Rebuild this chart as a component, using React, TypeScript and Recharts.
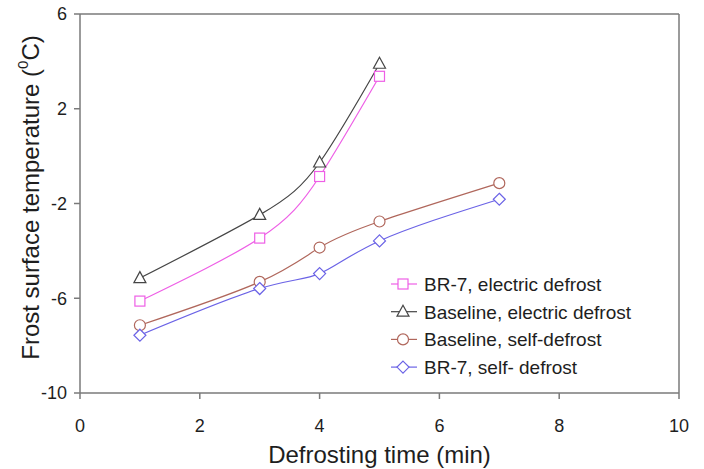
import React from "react";
import { LineChart, Line, XAxis, YAxis, ReferenceLine } from "recharts";

// Defrosting time (min)
const timeElectric = [1, 3, 4, 5];
const timeSelf = [1, 3, 4, 5, 7];

// Frost surface temperature (°C)
const br7Electric = [-6.12, -3.46, -0.86, 3.37];
const baselineElectric = [-5.15, -2.48, -0.27, 3.9];
const baselineSelf = [-7.14, -5.31, -3.86, -2.76, -1.14];
const br7Self = [-7.56, -5.59, -4.96, -3.58, -1.82];

const xTicks = [0, 2, 4, 6, 8, 10];
const yTicks = [-10, -6, -2, 2, 6];

const FONT = "'Liberation Sans', Arial, sans-serif";
const AXIS = "#7a7a7a";
const INK = "#1e1e1e";

type Shape = "square" | "triangle" | "circle" | "diamond";

const series = [
  { key: "br7e", name: "BR-7, electric defrost", color: "#ee5fe6", shape: "square" as Shape, x: timeElectric, y: br7Electric },
  { key: "basee", name: "Baseline, electric defrost", color: "#454545", shape: "triangle" as Shape, x: timeElectric, y: baselineElectric },
  { key: "bases", name: "Baseline, self-defrost", color: "#b0675c", shape: "circle" as Shape, x: timeSelf, y: baselineSelf },
  { key: "br7s", name: "BR-7, self- defrost", color: "#6b63e6", shape: "diamond" as Shape, x: timeSelf, y: br7Self },
];

function Marker({ cx, cy, shape, color }: { cx: number; cy: number; shape: Shape; color: string }) {
  const s = { fill: "#fff", stroke: color, strokeWidth: 1.2 };
  if (shape === "square") return <rect x={cx - 5} y={cy - 5} width={10} height={10} {...s} />;
  if (shape === "triangle")
    return <polygon points={`${cx},${cy - 6.5} ${cx + 6},${cy + 4.5} ${cx - 6},${cy + 4.5}`} {...s} />;
  if (shape === "circle") return <circle cx={cx} cy={cy} r={5.5} {...s} />;
  return <polygon points={`${cx},${cy - 6} ${cx + 6},${cy} ${cx},${cy + 6} ${cx - 6},${cy}`} {...s} />;
}

function LegendBox() {
  return (
    <svg width={280} height={120} style={{ overflow: "visible" }}>
      {series.map((s, i) => {
        const y = 14 + i * 27.7;
        return (
          <g key={s.key}>
            <line x1={0} x2={26} y1={y} y2={y} stroke={s.color} strokeWidth={1.2} />
            <Marker cx={12} cy={y} shape={s.shape} color={s.color} />
            <text x={33} y={y + 7} fontSize={19} fontFamily={FONT} fill={INK}>
              {s.name}
            </text>
          </g>
        );
      })}
    </svg>
  );
}

export default function App() {
  return (
    <div style={{ position: "absolute", left: 0, top: 0, width: 704, height: 469, background: "#fff" }}>
      <LineChart width={704} height={469} margin={{ top: 14, right: 25, left: 30, bottom: 26 }}>
        <XAxis
          type="number"
          dataKey="x"
          domain={[0, 10]}
          ticks={xTicks}
          allowDuplicatedCategory={false}
          height={50}
          stroke={AXIS}
          strokeWidth={1.5}
          tickSize={6}
          tick={{ fill: INK, fontSize: 18, fontFamily: FONT, dy: 18 }}
          label={(props: any) => {
            const vb = props.viewBox;
            return (
              <text
                x={vb.x + vb.width / 2}
                y={463}
                textAnchor="middle"
                fontSize={24}
                fontFamily={FONT}
                fill={INK}
              >
                Defrosting time (min)
              </text>
            );
          }}
        />
        <YAxis
          type="number"
          domain={[-10, 6]}
          ticks={yTicks}
          width={50}
          stroke={AXIS}
          strokeWidth={1.5}
          tickSize={6}
          tick={{ fill: INK, fontSize: 18, fontFamily: FONT, dx: -5 }}
          label={(props: any) => {
            const vb = props.viewBox;
            const cy = vb.y + vb.height / 2 - 6;
            const cx = 30;
            return (
              <text
                x={cx}
                y={cy}
                transform={`rotate(-90 ${cx} ${cy})`}
                textAnchor="middle"
                dominantBaseline="central"
                fontSize={24}
                fontFamily={FONT}
                fill={INK}
              >
                Frost surface temperature (
                <tspan fontSize={15} dy={-8}>0</tspan>
                <tspan dy={8}>C)</tspan>
              </text>
            );
          }}
        />
        <ReferenceLine y={6} stroke={AXIS} strokeWidth={1.5} />
        <ReferenceLine x={10} stroke={AXIS} strokeWidth={1.5} />
        {series.map((s) => (
          <Line
            key={s.key}
            name={s.name}
            data={s.x.map((x, i) => ({ x, v: s.y[i] }))}
            dataKey="v"
            type="natural"
            stroke={s.color}
            strokeWidth={1.2}
            isAnimationActive={false}
            dot={(p: any) => (
              <Marker key={`${s.key}-${p.index}`} cx={p.cx} cy={p.cy} shape={s.shape} color={s.color} />
            )}
          />
        ))}
      </LineChart>
      <div style={{ position: "absolute", left: 391, top: 270 }}>
        <LegendBox />
      </div>
    </div>
  );
}
